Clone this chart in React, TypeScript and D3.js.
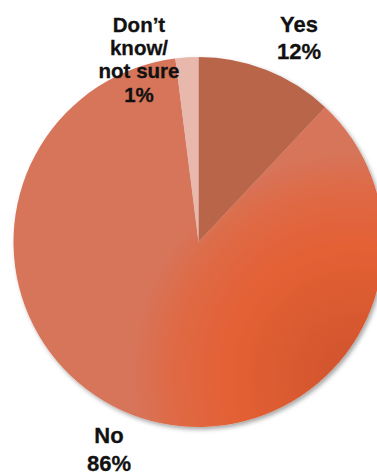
import React from "react";
import * as d3 from "d3";

const categories = ["Yes", "No", "Don't know/ not sure"];
const sliceValues = [12, 86, 2];
const labelLines = [["Yes", "12%"], ["No", "86%"], ["Don\u2019t", "know/", "not sure", "1%"]];
const colors = ["#b9654a", "url(#noGrad)", "#e9b8ac"];

const W = 377;
const H = 476;

export default function App() {
  const cx = 198.5;
  const cy = 242;
  const r = 185;
  const pie = d3
    .pie<number>()
    .sort(null)
    .value((d) => d)
    .startAngle(0)
    .endAngle(2 * Math.PI);
  const arcs = pie(sliceValues);
  const arcGen = d3.arc<d3.PieArcDatum<number>>().innerRadius(0).outerRadius(r);

  const labelPos = [
    { x: 299, y: 31.7, size: 22, lh: 27.6 },
    { x: 109, y: 443, size: 22, lh: 28 },
    { x: 139, y: 31.5, size: 20.5, lh: 23.4 },
  ];

  return (
    <svg
      width={W}
      height={H}
      style={{ position: "absolute", left: 0, top: 0, display: "block", background: "#fff" }}
    >
      <defs>
        <radialGradient id="noGrad" gradientUnits="userSpaceOnUse" cx={355 - cx} cy={375 - cy} r={285}>
          <stop offset="0" stopColor="#cf552e" />
          <stop offset="0.25" stopColor="#db5a30" />
          <stop offset="0.45" stopColor="#e46035" />
          <stop offset="0.64" stopColor="#df6944" />
          <stop offset="0.78" stopColor="#d7745a" />
          <stop offset="1" stopColor="#d7755a" />
        </radialGradient>
        <filter id="shadow" x="-10%" y="-10%" width="130%" height="130%">
          <feDropShadow dx="2" dy="2.5" stdDeviation="2" floodColor="#000" floodOpacity="0.35" />
        </filter>
      </defs>
      <g transform={`translate(${cx},${cy})`} filter="url(#shadow)">
        {arcs.map((a, i) => (
          <path key={categories[i]} d={arcGen(a) || ""} fill={colors[i]} />
        ))}
      </g>
      {labelLines.map((lines, i) => (
        <text
          key={categories[i]}
          x={labelPos[i].x}
          y={labelPos[i].y}
          textAnchor="middle"
          fontFamily="Liberation Sans, Arial, sans-serif"
          fontWeight="bold"
          fontSize={labelPos[i].size}
          fill="#111"
          stroke="#111"
          strokeWidth={0.3}
        >
          {lines.map((ln, j) => (
            <tspan key={j} x={labelPos[i].x} dy={j === 0 ? 0 : labelPos[i].lh}>
              {ln}
            </tspan>
          ))}
        </text>
      ))}
    </svg>
  );
}
